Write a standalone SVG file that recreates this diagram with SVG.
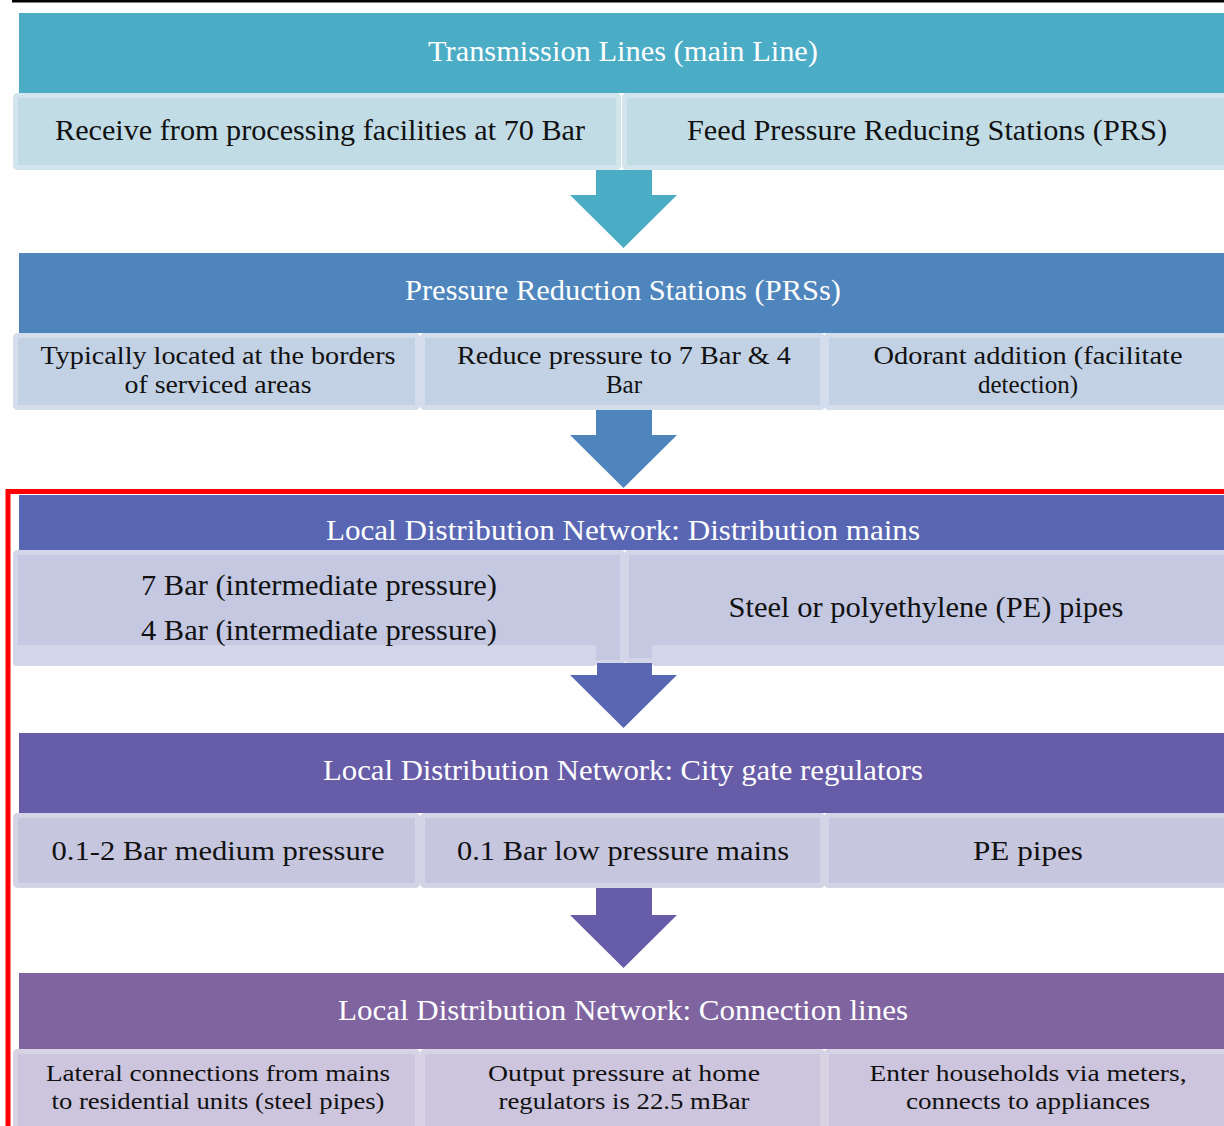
<svg xmlns="http://www.w3.org/2000/svg" width="1224" height="1126" viewBox="0 0 1224 1126">
<style>
text{font-family:"Liberation Serif","DejaVu Serif",serif;text-anchor:middle}
.ht{fill:#ffffff;font-size:29px;font-family:"Liberation Serif",serif}
.st{fill:#111111;font-family:"Liberation Serif",serif}
.f29{font-size:29px}.f27{font-size:27px}.f25{font-size:25px}.f24{font-size:24px}
</style>
<rect width="1224" height="1126" fill="#ffffff"/>
<rect x="12" y="0" width="1212" height="2.5" fill="#000000"/>

<g id="row1" font-family="Liberation Serif, serif">
  <rect x="19" y="13" width="1210" height="80" fill="#4BACC6"/>
  <text class="ht" x="623" y="61" textLength="390" lengthAdjust="spacingAndGlyphs">Transmission Lines (main Line)</text>
  <rect x="15.5" y="95.5" width="603" height="72" fill="#C2DCE6" stroke="#D2E4EC" stroke-width="5" rx="2"/>
  <text class="st f29" x="320" y="140" textLength="530" lengthAdjust="spacingAndGlyphs">Receive from processing facilities at 70 Bar</text>
  <rect x="624.5" y="95.5" width="605" height="72" fill="#C2DCE6" stroke="#D2E4EC" stroke-width="5" rx="2"/>
  <text class="st f29" x="927" y="140" textLength="480" lengthAdjust="spacingAndGlyphs">Feed Pressure Reducing Stations (PRS)</text>
</g>

<g id="row2" font-family="Liberation Serif, serif">
  <rect x="19" y="253" width="1210" height="80" fill="#4F85BD"/>
  <text class="ht" x="623" y="300" textLength="436" lengthAdjust="spacingAndGlyphs">Pressure Reduction Stations (PRSs)</text>
  <rect x="15.5" y="335.5" width="402" height="72" fill="#C3D1E4" stroke="#D3DDEB" stroke-width="5" rx="2"/>
  <text class="st f25" x="218" y="364" textLength="355" lengthAdjust="spacingAndGlyphs">Typically located at the borders</text>
  <text class="st f25" x="218" y="393" textLength="187" lengthAdjust="spacingAndGlyphs">of serviced areas</text>
  <rect x="422.5" y="335.5" width="400" height="72" fill="#C3D1E4" stroke="#D3DDEB" stroke-width="5" rx="2"/>
  <text class="st f25" x="624" y="364" textLength="334" lengthAdjust="spacingAndGlyphs">Reduce pressure to 7 Bar &amp; 4</text>
  <text class="st f25" x="624" y="393">Bar</text>
  <rect x="826.5" y="335.5" width="403" height="72" fill="#C3D1E4" stroke="#D3DDEB" stroke-width="5" rx="2"/>
  <text class="st f25" x="1028" y="364" textLength="309" lengthAdjust="spacingAndGlyphs">Odorant addition (facilitate</text>
  <text class="st f25" x="1028" y="393">detection)</text>
</g>

<rect x="8" y="491.5" width="1230" height="700" fill="none" stroke="#FF0000" stroke-width="5"/>

<g id="row3" font-family="Liberation Serif, serif">
  <rect x="19" y="495" width="1210" height="55" fill="#5866B3"/>
  <text class="ht" x="623" y="540" textLength="594" lengthAdjust="spacingAndGlyphs">Local Distribution Network: Distribution mains</text>
  <rect x="15.5" y="552.5" width="607" height="110" fill="#C4C8E1" stroke="#D3D6E8" stroke-width="5" rx="2"/>
  <rect x="626.5" y="552.5" width="603" height="108" fill="#C4C8E1" stroke="#D3D6E8" stroke-width="5" rx="2"/>
  <rect x="13" y="645" width="583" height="21" fill="#D3D6E8" rx="3"/>
  <rect x="652" y="645" width="580" height="21" fill="#D3D6E8" rx="3"/>
  <text class="st f29" x="319" y="595" textLength="356" lengthAdjust="spacingAndGlyphs">7 Bar (intermediate pressure)</text>
  <text class="st f29" x="319" y="640" textLength="356" lengthAdjust="spacingAndGlyphs">4 Bar (intermediate pressure)</text>
  <text class="st f29" x="926" y="617" textLength="395" lengthAdjust="spacingAndGlyphs">Steel or polyethylene (PE) pipes</text>
</g>

<g id="row4" font-family="Liberation Serif, serif">
  <rect x="19" y="733" width="1210" height="80" fill="#675CA8"/>
  <text class="ht" x="623" y="780" textLength="600" lengthAdjust="spacingAndGlyphs">Local Distribution Network: City gate regulators</text>
  <rect x="15.5" y="815.5" width="402" height="70" fill="#C7C6DF" stroke="#D5D4E7" stroke-width="5" rx="2"/>
  <text class="st f27" x="218" y="860" textLength="333" lengthAdjust="spacingAndGlyphs">0.1-2 Bar medium pressure</text>
  <rect x="422.5" y="815.5" width="400" height="70" fill="#C7C6DF" stroke="#D5D4E7" stroke-width="5" rx="2"/>
  <text class="st f27" x="623" y="860" textLength="332" lengthAdjust="spacingAndGlyphs">0.1 Bar low pressure mains</text>
  <rect x="826.5" y="815.5" width="403" height="70" fill="#C7C6DF" stroke="#D5D4E7" stroke-width="5" rx="2"/>
  <text class="st f27" x="1028" y="860" textLength="110" lengthAdjust="spacingAndGlyphs">PE pipes</text>
</g>

<g id="row5" font-family="Liberation Serif, serif">
  <rect x="19" y="973" width="1210" height="76" fill="#7F64A0"/>
  <text class="ht" x="623" y="1020" textLength="570" lengthAdjust="spacingAndGlyphs">Local Distribution Network: Connection lines</text>
  <rect x="15.5" y="1051.5" width="402" height="80" fill="#CCC5DD" stroke="#D8D2E5" stroke-width="5" rx="2"/>
  <text class="st f24" x="218" y="1081" textLength="344" lengthAdjust="spacingAndGlyphs">Lateral connections from mains</text>
  <text class="st f24" x="218" y="1109" textLength="333" lengthAdjust="spacingAndGlyphs">to residential units (steel pipes)</text>
  <rect x="422.5" y="1051.5" width="400" height="80" fill="#CCC5DD" stroke="#D8D2E5" stroke-width="5" rx="2"/>
  <text class="st f24" x="624" y="1081" textLength="272" lengthAdjust="spacingAndGlyphs">Output pressure at home</text>
  <text class="st f24" x="624" y="1109" textLength="251" lengthAdjust="spacingAndGlyphs">regulators is 22.5 mBar</text>
  <rect x="826.5" y="1051.5" width="403" height="80" fill="#CCC5DD" stroke="#D8D2E5" stroke-width="5" rx="2"/>
  <text class="st f24" x="1028" y="1081" textLength="317" lengthAdjust="spacingAndGlyphs">Enter households via meters,</text>
  <text class="st f24" x="1028" y="1109" textLength="244" lengthAdjust="spacingAndGlyphs">connects to appliances</text>
</g>

<g id="connectors">
  <path d="M596,170 H652 V195 H677 L623.5,248 L570,195 H596 Z" fill="#4BACC6"/>
  <path d="M596,410 H652 V435 H677 L623.5,488 L570,435 H596 Z" fill="#4F85BD"/>
  <path d="M597,663 H652 V675 H677 L623.5,728 L570,675 H597 Z" fill="#5866B3"/>
  <path d="M596,888 H652 V915 H677 L623.5,968 L570,915 H596 Z" fill="#675CA8"/>
</g>
</svg>
